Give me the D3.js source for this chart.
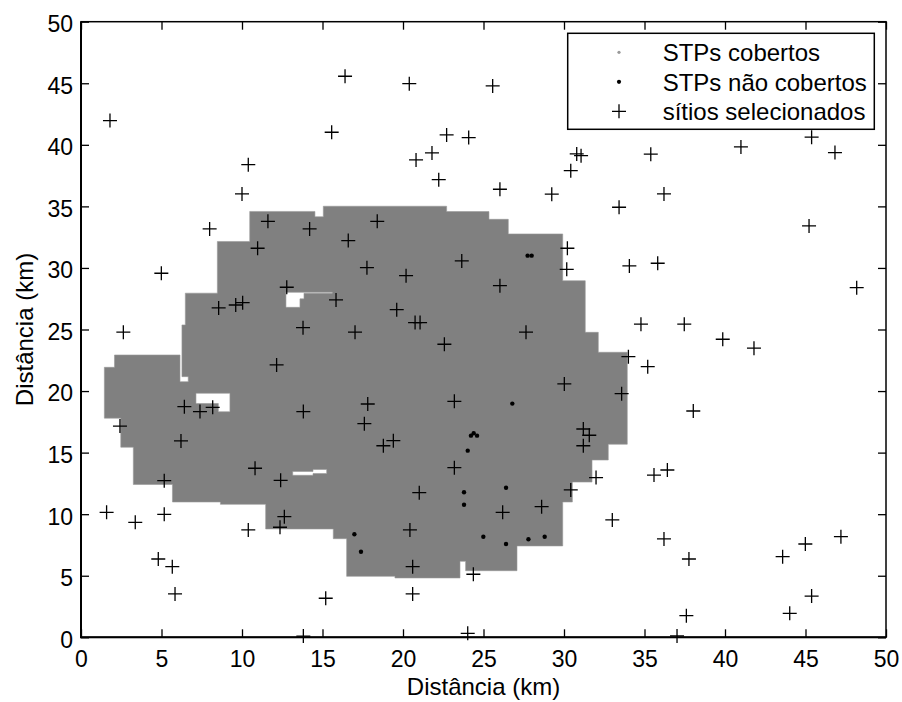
<!DOCTYPE html>
<html><head><meta charset="utf-8">
<script src="https://cdn.jsdelivr.net/npm/d3@7"></script>
<style>
body{margin:0;background:#fff}
svg{display:block}
text{font-family:"Liberation Sans",Arial,Helvetica,sans-serif;fill:#000}
</style>
</head><body>
<svg id="chart" width="902" height="702"></svg>
<script>
// ---------- data ----------
const xTicks = [0,5,10,15,20,25,30,35,40,45,50];
const yTicks = [0,5,10,15,20,25,30,35,40,45,50];
const xLabel = "Distância (km)";
const yLabel = "Distância (km)";
const legendLabels = ["STPs cobertos","STPs não cobertos","sítios selecionados"];

// outline of the region covered by the "STPs cobertos" grid (km)
const coveredOutline = [
 [1.45,21.93],[2.08,21.93],[2.08,22.93],[6.15,22.93],[6.15,20.76],[6.66,20.76],[6.66,21.17],
 [6.27,21.17],[6.27,25.37],[6.48,25.37],[6.48,27.95],[8.47,27.95],[8.47,32.15],[10.48,32.15],
 [10.48,34.59],[14.53,34.59],[14.53,34.16],[15.05,34.16],[15.05,35.01],[22.71,35.01],[22.71,34.58],
 [25.34,34.58],[25.34,33.95],[26.54,33.95],[26.54,32.76],[29.92,32.76],[29.92,28.96],[31.32,28.96],
 [31.32,24.77],[32.13,24.77],[32.13,23.15],[33.93,23.15],[33.93,15.68],[32.75,15.68],[32.75,14.40],
 [31.74,14.40],[31.74,12.61],[30.52,12.61],[30.52,10.99],[29.92,10.99],[29.92,7.42],[27.08,7.42],
 [27.08,5.41],[23.89,5.41],[23.89,6.17],[23.54,6.17],[23.54,4.82],[19.50,4.82],[19.50,4.95],
 [16.50,4.95],[16.50,8.01],[15.67,8.01],[15.67,8.80],[11.47,8.80],[11.47,10.80],[8.66,10.80],
 [8.66,10.99],[5.68,10.99],[5.68,12.41],[3.25,12.41],[3.25,15.44],[2.47,15.44],[2.47,17.80],
 [1.45,17.80]
];
// uncovered gaps inside that region (km)
const coveredHoles = [
 [[12.73,28.02],[15.61,28.02],[15.61,27.95],[13.85,27.95],[13.85,27.49],[13.60,27.49],[13.60,26.80],[12.73,26.80]],
 [[7.14,19.82],[9.25,19.82],[9.25,18.32],[8.53,18.32],[8.53,18.99],[7.14,18.99]],
 [[13.15,13.47],[14.41,13.47],[14.41,13.63],[15.26,13.63],[15.26,13.30],[14.41,13.30],[14.41,13.16],[13.15,13.16]]
];

// STPs não cobertos
const uncoveredX = [27.74,27.99,26.79,24.22,24.39,24.60,24.02,23.79,23.79,26.40,16.98,17.39,24.99,26.40,27.79,28.80];
const uncoveredY = [31.00,31.00,18.98,16.38,16.57,16.38,15.16,11.78,10.77,12.15,8.37,6.95,8.17,7.58,7.96,8.17];

// sítios selecionados
const siteX = [1.80,16.40,20.39,15.57,22.71,10.39,10.00,20.81,21.80,22.22,7.99,11.61,14.20,18.40,10.97,16.60,
 4.99,17.76,20.19,12.78,8.55,9.61,10.04,15.84,19.61,20.75,21.06,2.63,13.79,17.02,22.57,25.57,24.08,30.79,
 31.06,30.42,35.39,40.99,45.38,46.83,26.02,29.24,33.42,36.21,45.22,23.65,26.02,30.21,30.17,34.06,35.82,
 48.18,27.64,34.78,37.47,39.86,41.80,12.15,6.42,7.39,8.18,13.81,17.81,17.60,2.42,6.21,18.78,19.40,10.81,
 5.17,12.40,21.01,1.59,3.37,5.17,10.39,12.63,12.36,20.43,4.80,5.67,20.60,5.84,15.20,20.60,13.81,34.00,
 35.20,30.02,33.58,23.19,38.03,31.20,31.57,31.20,23.19,31.99,35.59,36.42,30.42,26.19,28.61,33.00,36.21,
 37.76,43.58,44.99,47.20,24.37,45.38,37.60,44.02,24.02,37.02];
const siteY = [41.97,45.57,44.97,41.02,40.80,38.39,36.01,38.77,39.34,37.17,33.17,33.79,33.17,33.79,31.60,32.22,
 29.57,30.02,29.37,28.43,26.75,26.99,27.18,27.40,26.61,25.56,25.56,24.78,25.15,24.78,23.80,44.78,40.59,39.26,
 39.12,37.90,39.24,39.83,40.62,39.37,36.39,35.99,34.93,36.01,33.41,30.57,28.56,31.60,29.89,30.16,30.38,
 28.40,24.78,25.43,25.43,24.21,23.48,22.12,18.73,18.33,18.68,18.33,18.95,17.35,17.16,15.95,15.56,15.97,13.73,
 12.72,12.75,11.75,10.15,9.34,9.99,8.72,9.80,8.94,8.72,6.36,5.74,5.74,3.52,3.17,3.52,0.10,22.79,
 21.98,20.58,19.79,19.17,18.38,16.92,16.41,15.56,13.78,12.97,13.18,13.59,11.97,10.15,10.61,9.53,7.99,
 6.36,6.55,7.58,8.17,5.12,3.35,1.76,1.95,0.32,0.11];

// ---------- drawing ----------
const svg = d3.select("#chart");
const L = 81, R = 886, T = 21.7, B = 637.3;
const x = d3.scaleLinear().domain([0,50]).range([L,R]);
const y = d3.scaleLinear().domain([0,50]).range([B,T]);
const gray = "#808080";

// covered region
const line = d3.line().x(d=>x(d[0])).y(d=>y(d[1]));
const ringPath = r => line(r) + "Z";
svg.append("path")
  .attr("d", ringPath(coveredOutline) + coveredHoles.map(ringPath).join(""))
  .attr("fill", gray)
  .attr("fill-rule", "evenodd")
  .attr("stroke", "#999")
  .attr("stroke-width", 0.6);

// uncovered STPs
svg.append("g").selectAll("circle")
  .data(uncoveredX.map((v,i)=>[v,uncoveredY[i]]))
  .join("circle")
  .attr("cx", d=>x(d[0])).attr("cy", d=>y(d[1]))
  .attr("r", 2.2).attr("fill", "#000");

// selected sites (plus markers)
const plus = (g, cx, cy, a) => g.append("path")
  .attr("d", `M${cx-a},${cy}H${cx+a}M${cx},${cy-a}V${cy+a}`)
  .attr("stroke", "#000").attr("stroke-width", 1.3).attr("fill", "none");
const sites = svg.append("g");
siteX.forEach((v,i)=>plus(sites, x(v), y(siteY[i]), 7));

// axes (inside ticks)
const fs = 23;
const ax = svg.append("g").attr("transform", `translate(0,${B})`)
  .call(d3.axisBottom(x).tickValues(xTicks).tickSizeInner(-8).tickSizeOuter(0).tickPadding(13));
const ay = svg.append("g").attr("transform", `translate(${L},0)`)
  .call(d3.axisLeft(y).tickValues(yTicks).tickSizeInner(-8).tickSizeOuter(0).tickPadding(8));
const at = svg.append("g").attr("transform", `translate(0,${T})`)
  .call(d3.axisTop(x).tickValues(xTicks).tickSizeInner(-8).tickSizeOuter(0).tickFormat(""));
const ar = svg.append("g").attr("transform", `translate(${R},0)`)
  .call(d3.axisRight(y).tickValues(yTicks).tickSizeInner(-8).tickSizeOuter(0).tickFormat(""));
[ax,ay,at,ar].forEach(g=>{
  g.select(".domain").remove();
  g.selectAll(".tick line").attr("stroke","#000").attr("stroke-width",1.3);
  g.selectAll("text").attr("font-size", fs).attr("font-family", null).attr("fill","#000");
});
ay.selectAll("text").attr("dy","0.43em");

// frame
svg.append("rect").attr("x",L).attr("y",T).attr("width",R-L).attr("height",B-T)
  .attr("fill","none").attr("stroke","#000").attr("stroke-width",1.5);
svg.append("path").attr("d",`M${L},${T}V${B}H${R}`).attr("fill","none")
  .attr("stroke","#000").attr("stroke-width",2);

// axis labels
svg.append("text").attr("x",(L+R)/2).attr("y",695).attr("text-anchor","middle")
  .attr("font-size",24).text(xLabel);
svg.append("text").attr("transform",`translate(33,${(T+B)/2}) rotate(-90)`)
  .attr("text-anchor","middle").attr("font-size",24).text(yLabel);

// legend
const lg = svg.append("g");
lg.append("rect").attr("x",567.7).attr("y",33.3).attr("width",306.6).attr("height",96)
  .attr("fill","#fff").attr("stroke","#000").attr("stroke-width",1.5);
const rowsBase = [61, 90.5, 120];
legendLabels.forEach((t,i)=>{
  lg.append("text").attr("x",662.7).attr("y",rowsBase[i]).attr("font-size",24).text(t);
});
lg.append("circle").attr("cx",619).attr("cy",rowsBase[0]-8.7).attr("r",1.6).attr("fill","#999");
lg.append("circle").attr("cx",619).attr("cy",rowsBase[1]-8.7).attr("r",2.1).attr("fill","#000");
plus(lg, 619, rowsBase[2]-8.7, 7);
</script>
</body></html>
